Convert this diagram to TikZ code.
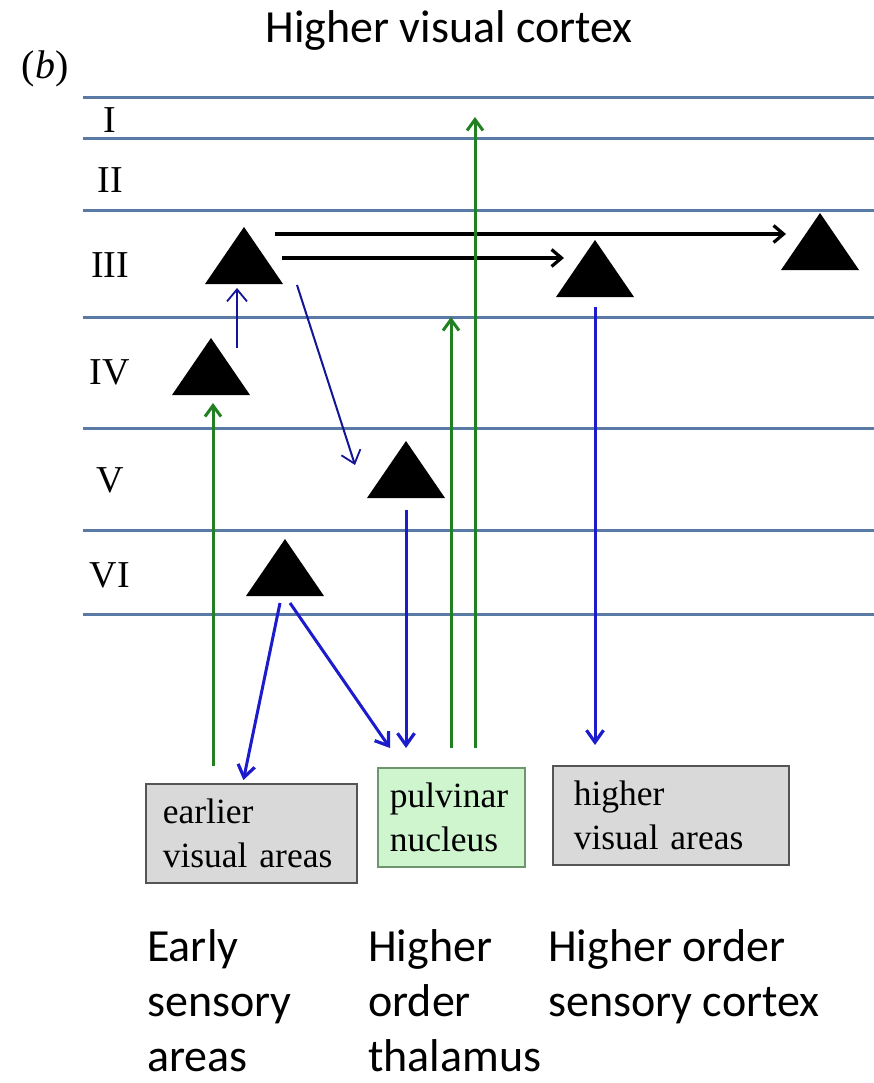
\documentclass[tikz,border=0pt]{standalone}
\usepackage{fontspec}
\setmainfont{Liberation Serif}
\newfontfamily\calib{Carlito}
\usetikzlibrary{arrows.meta}
\definecolor{layerblue}{RGB}{88,122,165}
\definecolor{axongreen}{RGB}{34,128,34}
\definecolor{thinblue}{RGB}{20,20,150}
\definecolor{thickblue}{RGB}{28,28,205}
\definecolor{boxgray}{RGB}{217,217,217}
\definecolor{boxedge}{RGB}{85,85,85}
\definecolor{pulvfill}{RGB}{206,245,206}
\definecolor{pulvedge}{RGB}{110,150,110}
\tikzset{
  layer/.style={layerblue, line width=3pt},
  roman/.style={font=\fontsize{38}{40}\selectfont, inner sep=0pt},
  caption/.style={font=\calib\fontsize{46}{55}\selectfont, align=left, inner sep=0pt},
  areabox/.style={draw=boxedge, fill=boxgray, line width=1.6pt, minimum height=99pt,
                  align=left, anchor=north west, font=\fontsize{35.5}{44}\selectfont},
  hvec/.style={black, line width=3.5pt, -{Straight Barb[length=10pt,width=17pt,line width=3.2pt]}},  % intra-layer III
  tvec/.style={thinblue, line width=2pt, -{Straight Barb[length=12pt,width=20pt,line width=1.8pt]}},
  bvec/.style={thickblue, line width=3pt, -{Straight Barb[length=12pt,width=17pt,line width=3.2pt]}}, % descending
  gvec/.style={axongreen, line width=3pt, -{Straight Barb[length=11pt,width=16pt,line width=3pt]}}, % ascending
}
% pyramidal cell: name, apex x, apex y (y grows downwards)
\newcommand{\pyramid}[3]{%
  \coordinate (#1) at (#2,#3);
  \fill[black] ({#2-39},{#3+57}) -- (#1) -- ({#2+39},{#3+57}) -- cycle;}

\begin{document}
\begin{tikzpicture}[x=1pt, y=-1pt]
  \fill[white] (0,0) rectangle (874,1083);
  \useasboundingbox (0,0) rectangle (874,1083);

  % --- titles ---
  \node[caption, anchor=base] (title) at (449,43) {Higher visual cortex};
  \node[font=\fontsize{40}{42}\selectfont] (panel) at (45,69) {(\textit{b})};

  % --- cortical layers ---
  \foreach \y in {98,139,211,317,428,530,614}
    \draw[layer] (83,\y) -- (874,\y);
  \foreach \t/\y in {I/120,II/180,III/265,IV/372,V/480,VI/575}
    \node[roman] (lay\t) at (110,\y) {\t};

  % --- pyramidal cells ---
  \pyramid{c3}{244}{227}
  \pyramid{c3b}{595}{240}
  \pyramid{c3c}{820}{213}
  \pyramid{c4}{211}{338}
  \pyramid{c5}{406}{441}
  \pyramid{c6}{285}{539}

  % --- target areas ---
  \node[areabox, text width=177pt, inner xsep=17pt] (early) at (145,783) {earlier\\visual areas};
  \node[areabox, fill=pulvfill, draw=pulvedge, text width=123pt, inner xsep=12pt] (pulv) at (377,767) {pulvinar\\nucleus};
  \node[areabox, text width=194pt, inner xsep=21pt] (higher) at (552,765) {higher\\visual areas};

  % --- bottom captions ---
  \node[caption, anchor=north west] (capA) at (147,929) {Early\\sensory\\areas};
  \node[caption, anchor=north west] (capB) at (368,929) {Higher\\order\\thalamus};
  \node[caption, anchor=north west] (capC) at (548,929) {Higher order\\sensory cortex};

  % --- arrow ends ---
  \coordinate (h1s) at (275,234);  \coordinate (h1e) at (786,234);
  \coordinate (h2s) at (282,258);  \coordinate (h2e) at (564,258);
  \coordinate (u4s) at (237,348);  \coordinate (u4e) at (237,288);
  \coordinate (d5s) at (297,285);  \coordinate (d5e) at (355,465);
  \coordinate (v6a) at (280,603);  \coordinate (v6b) at (290,603);
  \coordinate (v5s) at (406,510);  \coordinate (v5e) at (406,748);
  \coordinate (p1e) at (390,748);
  \coordinate (v3s) at (595,307);  \coordinate (v3e) at (595,745);
  \coordinate (g4s) at (213,766);  \coordinate (g4e) at (213,403);
  \coordinate (g3s) at (451,748);  \coordinate (g3e) at (451,317);
  \coordinate (g1s) at (475,748);  \coordinate (g1e) at (475,117);

  % --- layer III horizontal projections ---
  \draw[hvec] (h1s) -- (h1e);
  \draw[hvec] (h2s) -- (h2e);

  % --- thin intracortical ---
  \draw[tvec] (u4s) -- (u4e);
  \draw[tvec] (d5s) -- (d5e);

  % --- feedforward / feedback (green up, blue down) ---
  \draw[gvec] (g4s) -- (g4e);
  \draw[gvec] (g3s) -- (g3e);
  \draw[gvec] (g1s) -- (g1e);
  \draw[bvec, shorten >=3pt] (v6a) -- ([xshift=-8.5pt]early.north);
  \draw[bvec] (v6b) -- (p1e);
  \draw[bvec] (v5s) -- (v5e);
  \draw[bvec] (v3s) -- (v3e);
\end{tikzpicture}
\end{document}
